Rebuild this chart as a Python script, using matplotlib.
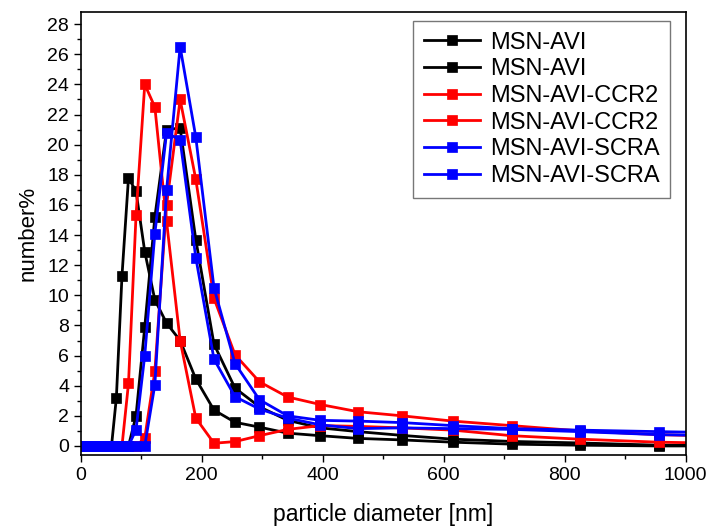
import matplotlib
matplotlib.use("Agg")
import matplotlib.pyplot as plt
from matplotlib.ticker import MultipleLocator

plt.rcParams['font.family'] = ['Liberation Sans', 'DejaVu Sans']

# size bins (nm) that read zero in every series
zero_bins = [0.4, 0.4632, 0.5365, 0.6213, 0.7195, 0.8332, 0.9649, 1.117, 1.294,
             1.499, 1.736, 2.01, 2.328, 2.696, 3.122, 3.615, 4.187, 4.849, 5.615,
             6.503, 7.531, 8.721, 10.1, 11.7, 13.54, 15.69, 18.17, 21.04, 24.36,
             28.21, 32.67, 37.84, 43.82, 50.75]
# size bins (nm) with read values
diameter = [58.77, 68.06, 78.82, 91.28, 105.7, 122.4, 141.8, 164.2, 190.1, 220.2,
            255.0, 295.3, 342.0, 396.1, 458.7, 531.2, 615.1, 712.4, 825.0, 955.4, 1106]

black_a = [3.2, 11.3, 17.8, 16.9, 12.9, 9.7, 8.15, 7.0, 4.45, 2.38, 1.57, 1.25,
           0.85, 0.68, 0.5, 0.4, 0.25, 0.12, 0.05, 0.0, 0.0]
black_b = [0, 0, 0, 2.0, 7.9, 15.2, 21.0, 21.1, 13.7, 6.75, 3.84, 2.6, 1.7, 1.2,
           0.95, 0.7, 0.45, 0.3, 0.2, 0.05, 0.05]
red_a = [0, 0, 4.15, 15.3, 24.0, 22.5, 14.9, 7.0, 1.85, 0.18, 0.29, 0.68, 1.1,
         1.35, 1.3, 1.2, 1.05, 0.68, 0.45, 0.25, 0.15]
red_b = [0, 0, 0, 0, 0.53, 4.95, 16.0, 23.0, 17.7, 9.8, 6.05, 4.26, 3.25, 2.75,
         2.27, 2.0, 1.65, 1.35, 1.0, 0.75, 0.6]
blue_a = [0, 0, 0, 1.08, 6.0, 14.1, 20.8, 20.3, 12.5, 5.76, 3.27, 2.45, 1.85,
          1.4, 1.15, 1.2, 1.15, 1.1, 0.95, 0.75, 0.65]
blue_b = [0, 0, 0, 0, 0, 4.06, 17.0, 26.5, 20.5, 10.5, 5.47, 3.07, 2.0, 1.7,
          1.65, 1.55, 1.35, 1.15, 1.05, 0.95, 0.85]

labels = ['MSN-AVI', 'MSN-AVI', 'MSN-AVI-CCR2', 'MSN-AVI-CCR2',
          'MSN-AVI-SCRA', 'MSN-AVI-SCRA']
colors = ['black', 'black', '#ff0000', '#ff0000', '#0000ff', '#0000ff']
series = [black_a, black_b, red_a, red_b, blue_a, blue_b]

fig = plt.figure(figsize=(7.09, 5.26), dpi=100)
ax = fig.add_axes([0.114, 0.135, 0.853, 0.842])

x = zero_bins + diameter
for ys, c, lab in zip(series, colors, labels):
    y = [0] * len(zero_bins) + ys
    ax.plot(x, y, color=c, lw=2, marker='s', ms=7.5, mec=c, mew=0.5, label=lab)

ax.set_xlim(0, 1000)
ax.set_ylim(-0.6, 28.8)
ax.set_yticks(range(0, 29, 2))
ax.xaxis.set_major_locator(MultipleLocator(200))
ax.xaxis.set_minor_locator(MultipleLocator(100))
ax.yaxis.set_minor_locator(MultipleLocator(1))
ax.tick_params(which='major', direction='out', length=5, width=1, labelsize=14)
ax.tick_params(which='minor', direction='out', length=3, width=1)
for s in ax.spines.values():
    s.set_linewidth(1.2)

ax.set_xlabel('particle diameter [nm]', fontsize=16.5, labelpad=14)
ax.set_ylabel('number%', fontsize=16, labelpad=6)

leg = ax.legend(loc='upper right', bbox_to_anchor=(0.974, 0.98), fontsize=17,
                frameon=True, fancybox=False, handlelength=2.4, borderaxespad=0,
                borderpad=0.45, labelspacing=0.2, handletextpad=0.4)
leg.get_frame().set_edgecolor('#555555')
leg.get_frame().set_linewidth(1.0)
for h in leg.legend_handles:
    h.set_markersize(7)

fig.savefig('out.png', dpi=100)
